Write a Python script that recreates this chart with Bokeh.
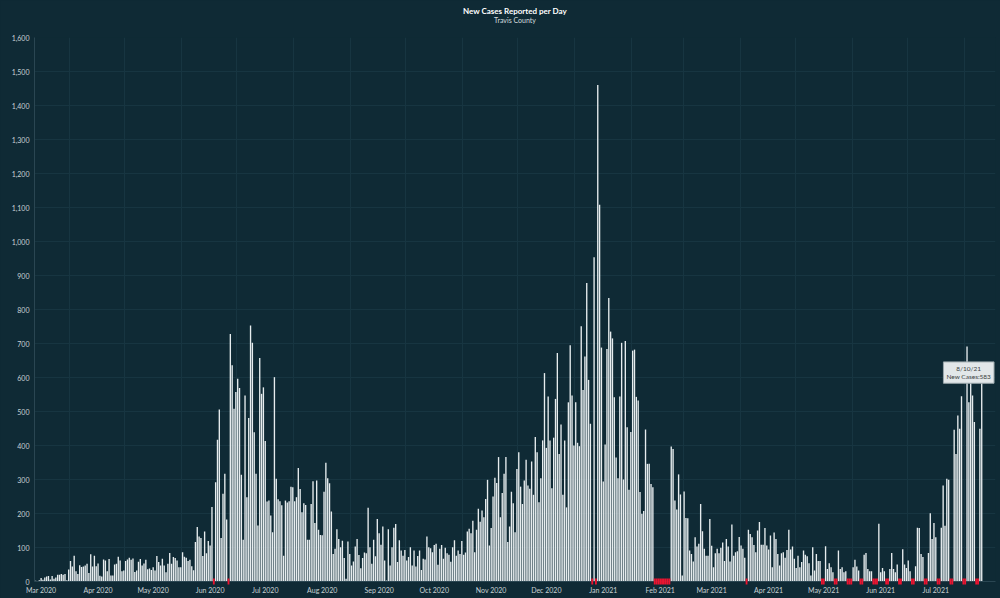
import numpy as np
from datetime import date, timedelta
from bokeh.plotting import figure
from bokeh.models import (Range1d, FixedTicker, Label, Title, NumeralTickFormatter,
                          GlobalInlineStyleSheet, ColumnDataSource)
from bokeh.embed import file_html
from bokeh.resources import INLINE

START = date(2020, 3, 13)

mar_2020 = [2, 1, 4, 10, 5, 12, 15, 16, 6, 16, 8, 12, 20, 20, 22, 20, 22, 4, 35]
apr_2020 = [60, 44, 76, 30, 22, 48, 43, 44, 47, 52, 25, 80, 44, 76, 45, 53, 17, 15, 65, 62,
            30, 66, 18, 18, 50, 52, 73, 62, 30, 32]
may_2020 = [60, 65, 70, 64, 68, 28, 32, 58, 66, 47, 53, 64, 36, 38, 34, 42, 32, 75, 57, 47,
            67, 47, 27, 52, 84, 52, 72, 69, 62, 42, 42]
jun_2020 = [86, 73, 70, 60, 64, 45, 33, 116, 160, 132, 128, 75, 147, 83, 119, 106, 219, 0, 292, 417,
            506, 128, 258, 317, 182, 0, 728, 636, 508, 557]
jul_2020 = [596, 569, 314, 123, 547, 248, 481, 753, 702, 439, 317, 165, 657, 552, 571, 413, 235, 238, 194, 145,
            601, 302, 242, 236, 224, 76, 238, 232, 236, 279, 277]
aug_2020 = [236, 248, 334, 272, 204, 230, 225, 123, 123, 228, 295, 172, 297, 152, 137, 136, 264, 349, 304, 289,
            206, 81, 96, 154, 125, 101, 120, 69, 8, 118, 81]
sep_2020 = [47, 59, 103, 125, 78, 39, 69, 85, 83, 217, 101, 52, 123, 74, 184, 142, 108, 162, 62, 3,
            154, 47, 101, 158, 169, 57, 121, 91, 76, 93]
oct_2020 = [62, 72, 101, 47, 91, 44, 75, 91, 34, 67, 65, 132, 101, 98, 86, 107, 111, 49, 96, 107,
            67, 99, 83, 79, 58, 101, 121, 76, 91, 81, 119]
nov_2020 = [79, 85, 147, 155, 142, 179, 86, 152, 214, 176, 209, 189, 243, 299, 106, 157, 250, 305, 290, 366,
            189, 260, 317, 366, 116, 162, 264, 230, 145, 331]
dec_2020 = [380, 279, 228, 297, 358, 282, 273, 353, 255, 425, 380, 233, 304, 415, 613, 393, 544, 415, 274, 423,
            537, 672, 375, 462, 255, 415, 218, 527, 695, 547, 400]
jan_2021 = [527, 408, 398, 751, 563, 662, 878, 593, 464, 0, 954, 0, 1460, 1108, 688, 294, 403, 684, 834, 735,
            715, 542, 365, 304, 544, 702, 300, 707, 454, 270, 440]
feb_2021 = [679, 682, 543, 532, 263, 199, 207, 447, 346, 346, 287, 277, 0, 0, 0, 0, 0, 0, 0, 0,
            0, 397, 390, 238, 212, 315, 256, 18]
mar_2021 = [265, 187, 186, 91, 81, 59, 130, 103, 111, 228, 148, 96, 76, 76, 184, 105, 42, 83, 96, 83,
            99, 115, 60, 125, 103, 59, 168, 76, 86, 89, 131]
apr_2021 = [106, 96, 70, 0, 152, 140, 130, 107, 86, 150, 175, 108, 108, 157, 106, 94, 135, 42, 144, 125,
            81, 47, 83, 86, 70, 93, 152, 94, 103, 67]
may_2021 = [40, 76, 42, 57, 91, 79, 74, 54, 18, 101, 32, 81, 60, 60, 0, 0, 104, 37, 54, 42,
            27, 0, 0, 91, 37, 42, 27, 30, 0, 0, 0]
jun_2021 = [42, 64, 44, 32, 0, 0, 79, 84, 37, 30, 30, 0, 0, 0, 170, 27, 40, 30, 0, 0,
            37, 84, 37, 27, 50, 0, 0, 95, 50, 40]
jul_2021 = [62, 30, 0, 0, 45, 158, 157, 81, 72, 0, 0, 84, 201, 125, 172, 130, 0, 0, 158, 282,
            164, 302, 299, 0, 0, 446, 375, 488, 449, 545, 0]
aug_2021 = [0, 691, 527, 600, 547, 469, 0, 0, 449, 583]

month_labels = ["Mar 2020", "Apr 2020", "May 2020", "Jun 2020", "Jul 2020", "Aug 2020",
                "Sep 2020", "Oct 2020", "Nov 2020", "Dec 2020", "Jan 2021", "Feb 2021",
                "Mar 2021", "Apr 2021", "May 2021", "Jun 2021", "Jul 2021"]
y_ticks = list(range(0, 1601, 100))

TITLE = "New Cases Reported per Day"
SUBTITLE = "Travis County"

# ---------------------------------------------------------------
new_cases = (mar_2020 + apr_2020 + may_2020 + jun_2020 + jul_2020 + aug_2020 + sep_2020 +
             oct_2020 + nov_2020 + dec_2020 + jan_2021 + feb_2021 + mar_2021 + apr_2021 +
             may_2021 + jun_2021 + jul_2021 + aug_2021)
n = len(new_cases)
dates = [START + timedelta(days=i) for i in range(n)]
xs = list(range(n))

BG = "#0f2a35"
GRID = "#173541"
TXT = "#c9d1d4"

src = ColumnDataSource(dict(x=xs, y=new_cases))
zero_x = [x for x, v in zip(xs, new_cases) if v == 0]


def day_index(d):
    return (d - START).days


label_ticks, boundaries = [], []
y0, m0 = 2020, 3
for i, lab in enumerate(month_labels):
    m = m0 - 1 + i
    yy, mm = y0 + m // 12, m % 12 + 1
    label_ticks.append(day_index(date(yy, mm, 16)))
    boundaries.append(day_index(date(yy, mm, 1)) - 0.5)
m = m0 - 1 + len(month_labels)
boundaries.append(day_index(date(y0 + m // 12, m % 12 + 1, 1)) - 0.5)

p = figure(width=1000, height=598, output_backend="svg", toolbar_location=None,
           title=None,
           x_range=Range1d(-0.6, n + 6.5), y_range=Range1d(0, y_ticks[-1]),
           background_fill_color=BG, border_fill_color=BG,
           min_border_left=34, min_border_right=5, min_border_top=37, min_border_bottom=17)
p.outline_line_color = None
p.stylesheets = [GlobalInlineStyleSheet(css="html,body{margin:0;padding:0;background:#0f2a35;overflow:hidden}")]

p.vbar(x="x", top="y", width=0.74, source=src, fill_color="#e6ecee", line_color=None)
p.rect(x=zero_x, y=[0] * len(zero_x), width=1.0, height=6, height_units="screen",
       fill_color="#ec1430", line_color=None, level="overlay")

# axes
p.yaxis.ticker = FixedTicker(ticks=y_ticks)
p.yaxis.formatter = NumeralTickFormatter(format="0,0")
p.xaxis.ticker = FixedTicker(ticks=label_ticks)
p.xaxis.major_label_overrides = {t: lab for t, lab in zip(label_ticks, month_labels)}
for ax in (p.xaxis, p.yaxis):
    ax.major_tick_line_color = None
    ax.minor_tick_line_color = None
    ax.major_tick_out = 0
    ax.major_tick_in = 0
    ax.minor_tick_out = 0
    ax.minor_tick_in = 0
    ax.axis_line_color = "#2a4652"
    ax.major_label_text_color = TXT
    ax.major_label_text_font = "Lato"
    ax.major_label_text_font_size = "7px"
p.yaxis.major_label_standoff = 5
p.xaxis.major_label_standoff = 4

p.xgrid.ticker = FixedTicker(ticks=boundaries)
p.xgrid.grid_line_color = GRID
p.ygrid.grid_line_color = GRID

# titles
p.add_layout(Title(text=SUBTITLE, align="center", offset=-14, text_font="Lato",
                   text_font_size="7px", text_font_style="normal", text_color="#d4dbde",
                   standoff=27), "above")
p.add_layout(Title(text=TITLE, align="center", offset=-14, text_font="Lato",
                   text_font_size="8px", text_font_style="bold", text_color="#ffffff",
                   standoff=-31), "above")

# tooltip for the last reported day
last_i = n - 1
d = dates[last_i]
tip = f"{d.month}/{d.day}/{d.strftime('%y')}\nNew Cases:{new_cases[last_i]}"
p.add_layout(Label(x=xs[last_i], y=new_cases[last_i], x_offset=-13, y_offset=0,
                   text=tip, text_align="center", text_baseline="bottom",
                   text_font="Lato", text_font_size="6.5px", text_color="#3a3f42",
                   background_fill_color="#e2e7e9", background_fill_alpha=1.0,
                   border_line_color="#9aa7ab", padding=3))

open("out.html", "w").write(file_html(p, INLINE))
